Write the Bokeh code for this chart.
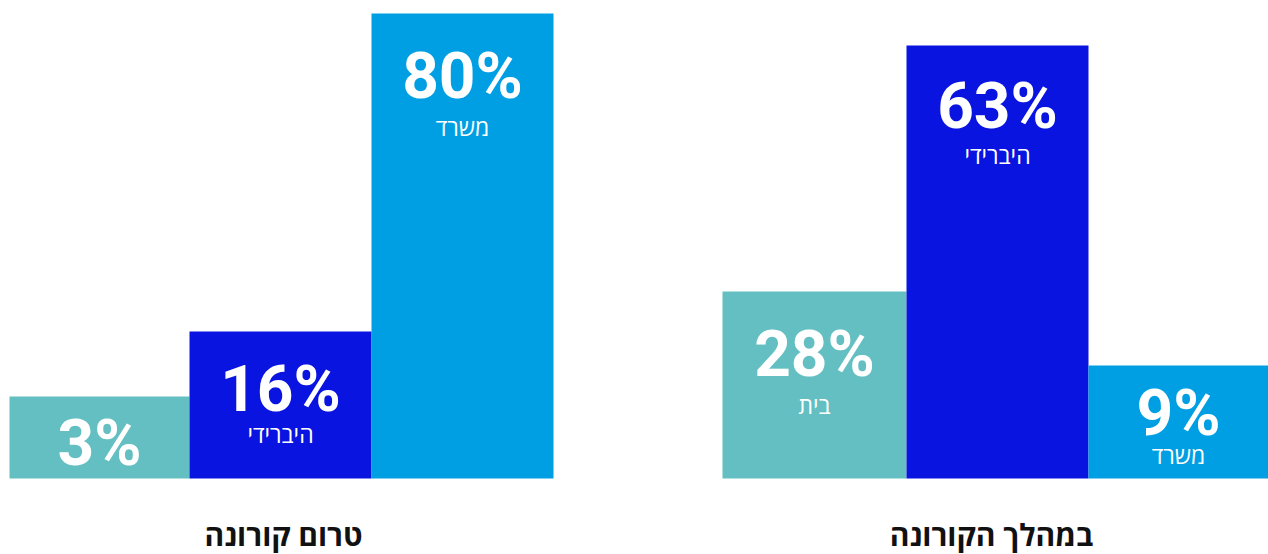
from bokeh.plotting import figure
from bokeh.models import Range1d, ColumnDataSource
from bokeh.core.properties import value
from bokeh.embed import file_html
from bokeh.resources import INLINE

# ---- data ----
groups = ["טרום קורונה", "במהלך הקורונה"]
categories = ["בית", "היברידי", "משרד"]
values_pre = [3, 16, 80]
values_during = [28, 63, 9]
# drawn bar heights (the infographic is not to scale)
heights_pre = [82, 147, 465]
heights_during = [187, 433, 113]
show_cat_pre = [False, True, True]
show_cat_during = [True, True, True]

colors = ["#63BFC1", "#0A14E0", "#009FE3"]

# ---- layout (pixel-like units) ----
group_left = [9, 722]
bar_width = [[180, 182, 182], [184, 182, 180]]
NUM_SIZE = 64
CAT_SIZE = 23
TITLE_SIZE = 30
SHIFT = 0.37  # renderer places alphabetic baseline ~0.37em lower
num_off = [[71, 82, 87], [87, 85, 72]]
cat_off = [[111, 111, 122], [122, 118, 98]]
title_x = [283, 991]
title_base = 545

p = figure(width=1268, height=554, output_backend="svg", toolbar_location=None,
           x_range=Range1d(0, 1268), y_range=Range1d(-76, 478),
           min_border=0, outline_line_color=None)
p.axis.visible = False
p.grid.visible = False
p.background_fill_color = "white"
p.border_fill_color = "white"

BASE = 478  # image y of baseline -> data y 0

for g, (vals, hts, shows) in enumerate([(values_pre, heights_pre, show_cat_pre),
                                        (values_during, heights_during, show_cat_during)]):
    lefts, rights, xs = [], [], []
    x = group_left[g]
    for i in range(3):
        lefts.append(x)
        rights.append(x + bar_width[g][i])
        xs.append(x + bar_width[g][i] / 2)
        x += bar_width[g][i]
    src = ColumnDataSource(dict(left=lefts, right=rights, top=hts, bottom=[0] * 3,
                                color=colors, x=xs,
                                ny=[h - o + SHIFT * NUM_SIZE for h, o in zip(hts, num_off[g])],
                                cy=[h - o + SHIFT * CAT_SIZE for h, o in zip(hts, cat_off[g])],
                                num=[f"{v}%" for v in vals],
                                cat=[c if s else "" for c, s in zip(categories, shows)]))
    p.quad(left="left", right="right", top="top", bottom="bottom", fill_color="color",
           line_color=None, source=src)
    p.text(x="x", y="ny", text="num", source=src, text_color="white",
           text_font=value("Roboto"), text_font_style="bold", text_font_size=f"{NUM_SIZE}px",
           text_align="center", text_baseline="alphabetic")
    p.text(x="x", y="cy", text="cat", source=src, text_color="white",
           text_font=value("Open Sans"), text_font_size=f"{CAT_SIZE}px",
           text_align="center", text_baseline="alphabetic")

p.text(x=title_x, y=[BASE - title_base + SHIFT * TITLE_SIZE] * 2, text=groups,
       text_color="#111111",
       text_font=value("Open Sans"), text_font_style="bold", text_font_size=f"{TITLE_SIZE}px",
       text_align="center", text_baseline="alphabetic")

open("out.html", "w").write(file_html(p, INLINE))
